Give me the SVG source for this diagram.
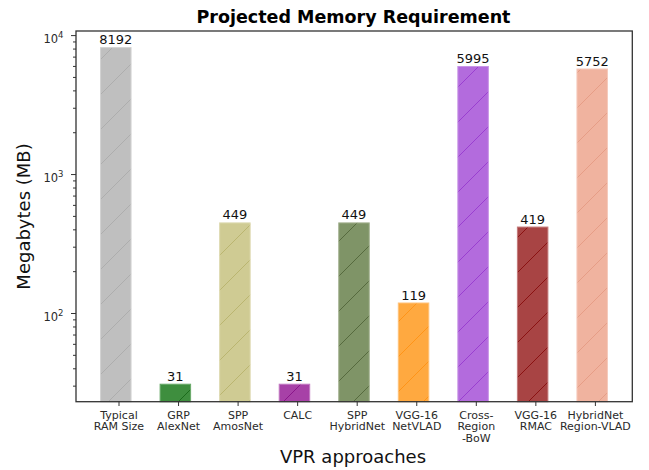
<svg xmlns="http://www.w3.org/2000/svg" width="649" height="470" viewBox="0 0 649 470">
<style>
  text { font-family: "DejaVu Sans", "Liberation Sans", sans-serif; }
  .title { font-size: 17.5px; font-weight: bold; fill: #000; }
  .axlab { font-size: 18px; fill: #111; }
  .val { font-size: 13px; fill: #111; text-anchor: middle; }
  .xt { font-size: 11px; fill: #2a2a2a; text-anchor: middle; }
  .yt { font-size: 11.5px; fill: #2a2a2a; text-anchor: end; }
  .tick { stroke: #333; stroke-width: 1; fill: none; }
  .frame { stroke: #333; stroke-width: 1.3; fill: none; }
  .bar { stroke-width: 1; }
</style>
<defs>
  <pattern id="h0" patternUnits="userSpaceOnUse" x="20" y="0" width="35" height="35"><path d="M-2,37 L37,-2 M-2,2 L2,-2 M33,37 L37,33" stroke="#adadad" stroke-width="1"/></pattern>
  <pattern id="h1" patternUnits="userSpaceOnUse" x="20" y="0" width="35" height="35"><path d="M-2,37 L37,-2 M-2,2 L2,-2 M33,37 L37,33" stroke="#1b6b1b" stroke-width="1"/></pattern>
  <pattern id="h2" patternUnits="userSpaceOnUse" x="20" y="0" width="35" height="35"><path d="M-2,37 L37,-2 M-2,2 L2,-2 M33,37 L37,33" stroke="#bab570" stroke-width="1"/></pattern>
  <pattern id="h3" patternUnits="userSpaceOnUse" x="20" y="0" width="35" height="35"><path d="M-2,37 L37,-2 M-2,2 L2,-2 M33,37 L37,33" stroke="#8a168a" stroke-width="1"/></pattern>
  <pattern id="h4" patternUnits="userSpaceOnUse" x="20" y="0" width="35" height="35"><path d="M-2,37 L37,-2 M-2,2 L2,-2 M33,37 L37,33" stroke="#566a3e" stroke-width="1"/></pattern>
  <pattern id="h5" patternUnits="userSpaceOnUse" x="20" y="0" width="35" height="35"><path d="M-2,37 L37,-2 M-2,2 L2,-2 M33,37 L37,33" stroke="#ff9418" stroke-width="1"/></pattern>
  <pattern id="h6" patternUnits="userSpaceOnUse" x="20" y="0" width="35" height="35"><path d="M-2,37 L37,-2 M-2,2 L2,-2 M33,37 L37,33" stroke="#9a3fd0" stroke-width="1"/></pattern>
  <pattern id="h7" patternUnits="userSpaceOnUse" x="20" y="0" width="35" height="35"><path d="M-2,37 L37,-2 M-2,2 L2,-2 M33,37 L37,33" stroke="#8b1212" stroke-width="1"/></pattern>
  <pattern id="h8" patternUnits="userSpaceOnUse" x="20" y="0" width="35" height="35"><path d="M-2,37 L37,-2 M-2,2 L2,-2 M33,37 L37,33" stroke="#e69d86" stroke-width="1"/></pattern>
</defs>
<rect width="649" height="470" fill="#fff"/>

<text class="title" x="353.5" y="22.5" text-anchor="middle">Projected Memory Requirement</text>

<g id="bars">
  <g id="bar-typical">
    <rect x="100.55" y="47.6" width="30.5" height="354.1" fill="#bfbfbf"/>
    <rect class="bar" x="100.55" y="47.6" width="30.5" height="354.1" fill="url(#h0)" stroke="#d2d2d2"/>
    <text class="val" x="115.8" y="44.1">8192</text>
  </g>
  <g id="bar-grp">
    <rect x="160.1" y="384.2" width="30.5" height="17.5" fill="#3e8e3e"/>
    <rect class="bar" x="160.1" y="384.2" width="30.5" height="17.5" fill="url(#h1)" stroke="#6aaa6a"/>
    <text class="val" x="175.35" y="380.7">31</text>
  </g>
  <g id="bar-spp-amos">
    <rect x="219.65" y="222.9" width="30.5" height="178.8" fill="#cfcb93"/>
    <rect class="bar" x="219.65" y="222.9" width="30.5" height="178.8" fill="url(#h2)" stroke="#ddd9b0"/>
    <text class="val" x="234.9" y="219.4">449</text>
  </g>
  <g id="bar-calc">
    <rect x="279.2" y="384.2" width="30.5" height="17.5" fill="#a741a7"/>
    <rect class="bar" x="279.2" y="384.2" width="30.5" height="17.5" fill="url(#h3)" stroke="#c27ac2"/>
    <text class="val" x="294.45" y="380.7">31</text>
  </g>
  <g id="bar-spp-hybrid">
    <rect x="338.75" y="222.9" width="30.5" height="178.8" fill="#7f9467"/>
    <rect class="bar" x="338.75" y="222.9" width="30.5" height="178.8" fill="url(#h4)" stroke="#a3b08f"/>
    <text class="val" x="354" y="219.4">449</text>
  </g>
  <g id="bar-netvlad">
    <rect x="398.3" y="303" width="30.5" height="98.7" fill="#ffa940"/>
    <rect class="bar" x="398.3" y="303" width="30.5" height="98.7" fill="url(#h5)" stroke="#ffc27a"/>
    <text class="val" x="413.55" y="299.5">119</text>
  </g>
  <g id="bar-crossregion">
    <rect x="457.85" y="66.5" width="30.5" height="335.2" fill="#b36bdd"/>
    <rect class="bar" x="457.85" y="66.5" width="30.5" height="335.2" fill="url(#h6)" stroke="#c894e6"/>
    <text class="val" x="473.1" y="63">5995</text>
  </g>
  <g id="bar-rmac">
    <rect x="517.4" y="227.05" width="30.5" height="174.65" fill="#a84444"/>
    <rect class="bar" x="517.4" y="227.05" width="30.5" height="174.65" fill="url(#h7)" stroke="#c47a7a"/>
    <text class="val" x="532.65" y="223.5">419</text>
  </g>
  <g id="bar-regionvlad">
    <rect x="576.95" y="69" width="30.5" height="332.7" fill="#f0b39f"/>
    <rect class="bar" x="576.95" y="69" width="30.5" height="332.7" fill="url(#h8)" stroke="#f5c9bb"/>
    <text class="val" x="592.2" y="65.8">5752</text>
  </g>
</g>

<g id="axes">
  <rect class="frame" x="76" y="31" width="556.3" height="370.7"/>
  <path class="tick" d="M71,35.6H76 M71,174.55H76 M71,313.5H76"/>
  <path class="tick" d="M73,386.15H76 M73,368.79H76 M73,355.33H76 M73,344.33H76 M73,335.02H76 M73,326.97H76 M73,319.86H76
    M73,271.67H76 M73,247.2H76 M73,229.84H76 M73,216.38H76 M73,205.38H76 M73,196.07H76 M73,188.02H76 M73,180.91H76
    M73,132.72H76 M73,108.25H76 M73,90.89H76 M73,77.43H76 M73,66.43H76 M73,57.12H76 M73,49.07H76 M73,41.96H76"/>
  <path class="tick" d="M119,401.7V406 M178.55,401.7V406 M238.1,401.7V406 M297.65,401.7V406 M357.2,401.7V406 M416.75,401.7V406 M476.3,401.7V406 M535.85,401.7V406 M595.4,401.7V406"/>

  <text class="yt" x="63.5" y="43.3">10<tspan font-size="8.5px" dy="-5">4</tspan></text>
  <text class="yt" x="63.5" y="181.8">10<tspan font-size="8.5px" dy="-5">3</tspan></text>
  <text class="yt" x="63.5" y="320.8">10<tspan font-size="8.5px" dy="-5">2</tspan></text>

  <text class="xt" x="119" y="418.6">Typical<tspan x="119" dy="11.8">RAM Size</tspan></text>
  <text class="xt" x="178.55" y="418.6">GRP<tspan x="178.55" dy="11.8">AlexNet</tspan></text>
  <text class="xt" x="238.1" y="418.6">SPP<tspan x="238.1" dy="11.8">AmosNet</tspan></text>
  <text class="xt" x="297.65" y="418.6">CALC</text>
  <text class="xt" x="357.2" y="418.6">SPP<tspan x="357.2" dy="11.8">HybridNet</tspan></text>
  <text class="xt" x="416.75" y="418.6">VGG-16<tspan x="416.75" dy="11.8">NetVLAD</tspan></text>
  <text class="xt" x="476.3" y="418.6">Cross-<tspan x="476.3" dy="11.8">Region</tspan><tspan x="476.3" dy="11.8">-BoW</tspan></text>
  <text class="xt" x="535.85" y="418.6">VGG-16<tspan x="535.85" dy="11.8">RMAC</tspan></text>
  <text class="xt" x="595.4" y="418.6">HybridNet<tspan x="595.4" dy="11.8">Region-VLAD</tspan></text>

  <text class="axlab" x="353" y="462.5" text-anchor="middle">VPR approaches</text>
  <text class="axlab" transform="translate(29.5,216.5) rotate(-90)" text-anchor="middle">Megabytes (MB)</text>
</g>
</svg>
